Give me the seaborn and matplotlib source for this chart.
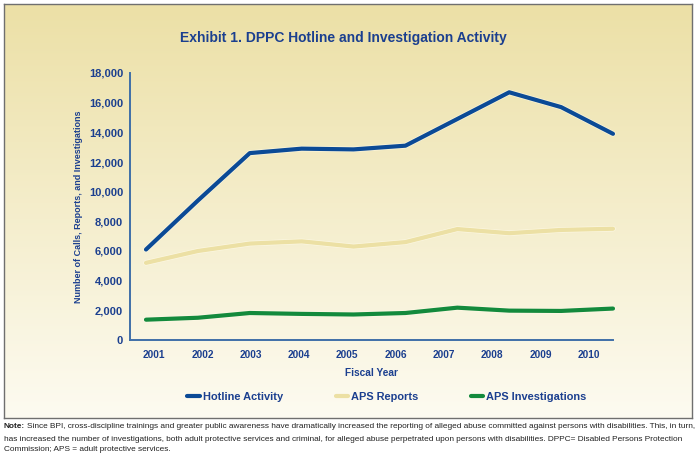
import numpy as np
import pandas as pd
import matplotlib
matplotlib.use("Agg")
import matplotlib.pyplot as plt
import matplotlib.patheffects as pe
from matplotlib.lines import Line2D
import seaborn as sns

years = ["2001", "2002", "2003", "2004", "2005", "2006", "2007", "2008", "2009", "2010"]
hotline = [6100, 9400, 12600, 12900, 12850, 13100, 14900, 16700, 15700, 13900]
aps_reports = [5200, 6000, 6500, 6650, 6300, 6600, 7480, 7200, 7420, 7500]
aps_investigations = [1370, 1500, 1820, 1760, 1720, 1820, 2180, 1980, 1960, 2120]

series = ["Hotline Activity", "APS Reports", "APS Investigations"]
colors = ["#0b4a96", "#ece0a4", "#138a3c"]
navy = "#1b3f8f"

note_lines = [
    "Since BPI, cross-discipline trainings and greater public awareness have dramatically increased the "
    "reporting of alleged abuse committed against persons with disabilities. This, in turn,",
    "has increased the number of investigations, both adult protective services and criminal, for alleged "
    "abuse perpetrated upon persons with disabilities. DPPC= Disabled Persons Protection",
    "Commission; APS = adult protective services.",
]

df = pd.DataFrame({"year": years, "Hotline Activity": hotline,
                   "APS Reports": aps_reports, "APS Investigations": aps_investigations})
df["idx"] = np.arange(len(years))
long = df.melt(id_vars=["year", "idx"], value_vars=series, var_name="series", value_name="count")

sns.set_style("white")
plt.rcParams["font.family"] = ["Liberation Sans", "DejaVu Sans"]

fig = plt.figure(figsize=(7, 4.58), dpi=100)

# framed, shaded panel behind the chart
bg = fig.add_axes([4 / 700, 1 - 418 / 458, 688 / 700, 414 / 458])
grad = np.linspace(0, 1, 256).reshape(-1, 1)
cmap = matplotlib.colors.LinearSegmentedColormap.from_list("bg", ["#ece0a6", "#fdfbf1"])
bg.imshow(grad, aspect="auto", cmap=cmap, extent=[0, 1, 0, 1], zorder=0)
bg.set_xticks([])
bg.set_yticks([])
for s in bg.spines.values():
    s.set_color("#6f6f6f")
    s.set_linewidth(1.0)

ax = fig.add_axes([130 / 700, 1 - 340 / 458, 483 / 700, 267 / 458])
ax.set_facecolor("none")

sns.lineplot(data=long, x="idx", y="count", hue="series", hue_order=series,
             palette=colors, linewidth=3.0, legend=False, ax=ax, zorder=3)
for line in ax.lines:
    line.set_solid_capstyle("round")
    line.set_clip_on(False)
    line.set_path_effects([pe.Stroke(linewidth=4.0, foreground="#fffbe8", alpha=0.7), pe.Normal()])

xlo, xhi = -0.308, len(years) - 1
ax.set_xlim(xlo, xhi)
ax.set_ylim(0, 18000)

bounds = np.linspace(xlo, xhi, len(years) + 1)
centers = (bounds[:-1] + bounds[1:]) / 2
ax.set_xticks(bounds[1:])
ax.set_xticklabels([])
ax.set_xticks(centers, minor=True)
ax.set_xticklabels(years, minor=True)
ax.tick_params(axis="x", which="major", direction="in", length=6, width=1.2, color="#3f6fa8")
ax.tick_params(axis="x", which="minor", length=0, pad=7, labelsize=7.3, labelcolor=navy)

ax.set_yticks(np.arange(0, 18001, 2000))
ax.set_yticklabels([f"{v:,}" for v in range(0, 18001, 2000)])
ax.tick_params(axis="y", direction="in", length=9, width=1.2, color="#3f6fa8",
               labelsize=8, labelcolor=navy, pad=5)
for lab in ax.get_xticklabels(minor=True) + ax.get_yticklabels():
    lab.set_fontweight("bold")

for side in ["top", "right"]:
    ax.spines[side].set_visible(False)
for side in ["left", "bottom"]:
    ax.spines[side].set_color("#3f6fa8")
    ax.spines[side].set_linewidth(1.4)

ax.set_xlabel("Fiscal Year", fontsize=7.3, fontweight="bold", color=navy, labelpad=6)
ax.set_ylabel("Number of Calls, Reports, and Investigations", fontsize=6.5,
              fontweight="bold", color=navy, labelpad=4)

fig.text(343 / 700, 1 - 38 / 458, "Exhibit 1. DPPC Hotline and Investigation Activity",
         ha="center", va="center", fontsize=10, fontweight="bold", color=navy)

handles = [Line2D([0], [0], color=c, lw=3) for c in colors]
leg = fig.legend(handles, series, loc="center", bbox_to_anchor=(387 / 700, 1 - 397 / 458),
                 ncol=3, frameon=False, handlelength=1.1, handletextpad=0.3,
                 columnspacing=4.8, prop={"size": 7.9, "weight": "bold"})
for t in leg.get_texts():
    t.set_color(navy)

# note under the frame, sized so the first line spans the panel width
renderer = fig.canvas.get_renderer()
fs = 6.3
bold = fig.text(4 / 700, 1 - 423 / 458, "Note:", fontsize=fs, fontweight="bold", va="top", color="#222222")
first = fig.text(0, 1 - 423 / 458, note_lines[0], fontsize=fs, va="top", color="#222222")
total = bold.get_window_extent(renderer).width + 2 + first.get_window_extent(renderer).width
fs = fs * 686 / total
bold.set_fontsize(fs)
first.set_fontsize(fs)
first.set_x((4 + bold.get_window_extent(renderer).width + 2) / 700)
fig.text(4 / 700, 1 - 436 / 458, "\n".join(note_lines[1:]), fontsize=fs, va="top",
         color="#222222", linespacing=1.55)

fig.savefig("out.png", dpi=100)
